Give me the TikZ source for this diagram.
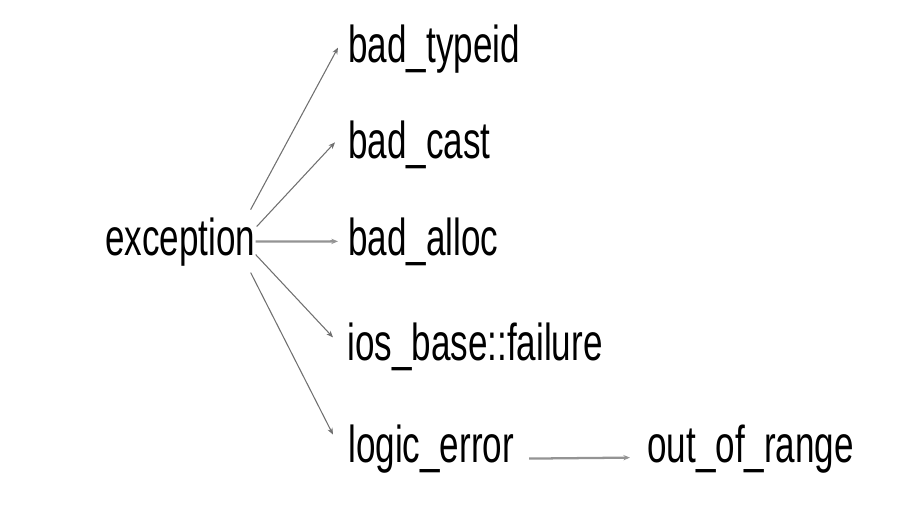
\documentclass[tikz,border=0pt]{standalone}
\usepackage{fontspec}
\setmainfont{Liberation Sans}
\usetikzlibrary{arrows.meta}
\usepackage{xcolor}
\definecolor{LineGray}{HTML}{707070}
\newcommand{\tall}[1]{\scalebox{1}[1.48]{#1}}

\begin{document}
\begin{tikzpicture}[x=0.75pt,y=-0.75pt,font=\fontsize{26.3}{30}\selectfont,
    cls/.style={anchor=base west,inner sep=0pt},
    link/.style={draw=LineGray,line width=0.8pt,-{Stealth[length=5pt,width=4pt]}},
    thick link/.style={link,line width=1.7pt,draw=LineGray!75}]
    \useasboundingbox (0,0) rectangle (923,508);
    \node[cls] (exc) at (105,255) {\tall{exception}};
    \node[cls] (badtypeid) at (348,62) {\tall{bad\_typeid}};
    \node[cls] (badcast) at (348,158) {\tall{bad\_cast}};
    \node[cls] (badalloc) at (348,255) {\tall{bad\_alloc}};
    \node[cls] (iosfail) at (347,360) {\tall{ios\_base::failure}};
    \node[cls] (logicerr) at (348,462) {\tall{logic\_error}};
    \node[cls] (outofrange) at (647,462) {\tall{out\_of\_range}};
    \foreach \to/\sx/\sy/\ex/\ey in {badtypeid/-5/-32/-10/-1,badcast/1/-15/-13/-2,
      iosfail/0/13/-14/-9,logicerr/-5/31/-15/-14}{
      \draw[link] ([shift={(\sx,\sy)}]exc.east) -- ([shift={(\ex,\ey)}]\to.west);
    }
    \draw[thick link] (exc.east) -- ([xshift=-7.5pt]badalloc.west);
    \draw[thick link] ([shift={(15,10)}]logicerr.east) -- ([shift={(-17,9)}]outofrange.west);
  \end{tikzpicture}
\end{document}
